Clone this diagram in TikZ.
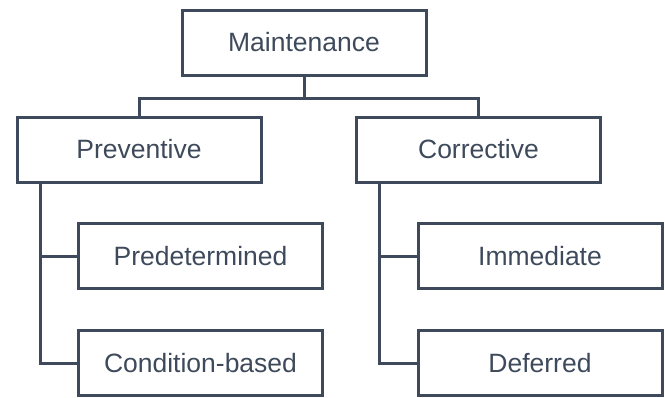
\documentclass[tikz,border=0pt]{standalone}
\usepackage{fontspec}
\setmainfont{Liberation Sans}
\usepackage{tikz}
\usetikzlibrary{positioning}
\definecolor{slate}{RGB}{62,74,91}
\tikzstyle{box}=[rectangle,draw=slate,line width=3pt,minimum width=244pt,
  			  minimum height=65pt,inner sep=0pt,text=slate]
\tikzstyle{line}=[draw=slate,line width=3pt]

\begin{document}
\begin{tikzpicture}[x=1pt,y=-1pt,font=\fontsize{26.5}{30}\selectfont]
	\useasboundingbox (0,0) rectangle (665,397);

	\node[box] (maint) at (304,42.5) {Maintenance};
	\node[box] (prev)  at (139,149.5) {Preventive};
	\node[box] (corr)  at (478.5,149.5) {Corrective};
	\node[box] (pred)  at (200.5,256) {Predetermined};
	\node[box] (cond)  at (200.5,363) {Condition-based};
	\node[box] (imm)   at (540,256) {Immediate};
	\node[box] (defer) at (540,363) {Deferred};

  \path [line] (maint.south) -- ++(0,22) -| (prev.north);
  \path [line] (maint.south) -- ++(0,22) -| (corr.north);
  \path [line] ([xshift=24.5pt]prev.south west) |- (pred.west);
  \path [line] ([xshift=24.5pt]prev.south west) |- (cond.west);
  \path [line] ([xshift=24.5pt]corr.south west) |- (imm.west);
  \path [line] ([xshift=24.5pt]corr.south west) |- (defer.west);

\end{tikzpicture}
\end{document}
